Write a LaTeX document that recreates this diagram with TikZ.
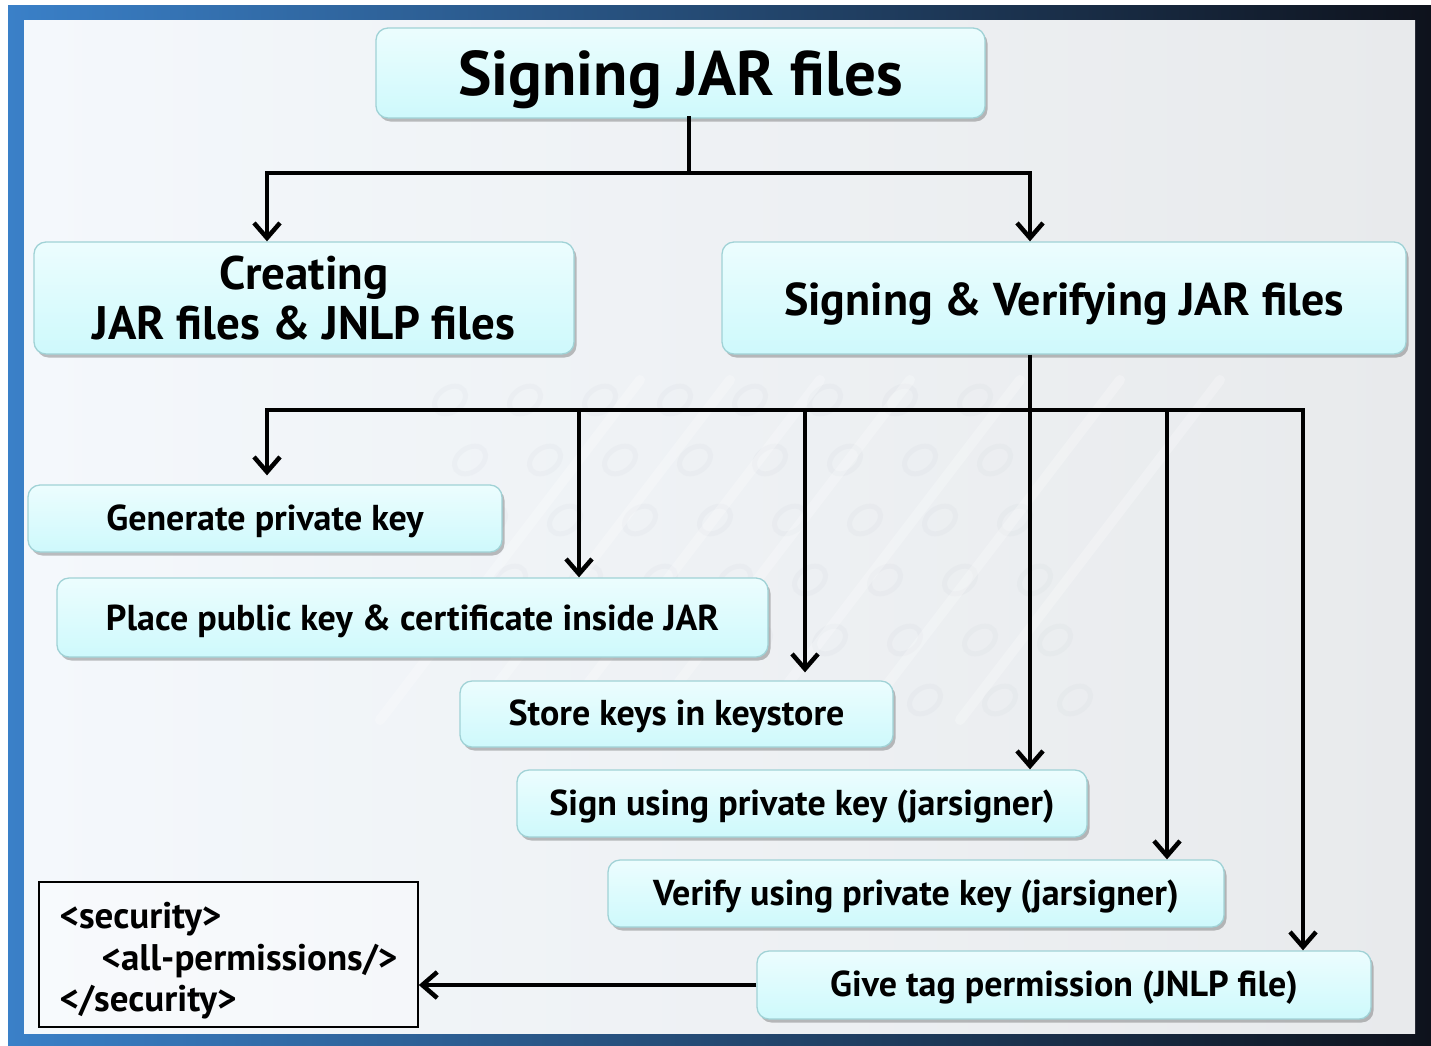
\documentclass[tikz,border=0pt]{standalone}
\usepackage{fontspec}
\setmainfont{PT Sans}
\usetikzlibrary{arrows.meta,shadows}
\definecolor{boxtop}{RGB}{236,253,254}
\definecolor{boxbot}{RGB}{206,249,252}
\definecolor{boxline}{RGB}{160,210,214}
\definecolor{frameL}{RGB}{58,128,200}
\definecolor{frameR}{RGB}{14,18,28}
\definecolor{panelL}{RGB}{244,248,252}
\definecolor{panelR}{RGB}{232,234,236}
\definecolor{etch}{RGB}{150,160,175}
\begin{document}
\begin{tikzpicture}[x=1pt,y=-1pt,
  stepbox/.style={draw=boxline, line width=1.3pt, rounded corners=12pt,
    top color=boxtop, bottom color=boxbot, inner sep=0pt, align=center,
    drop shadow={shadow xshift=2.5pt, shadow yshift=-3.5pt, opacity=0.35, fill=black!70},
    text height=25pt, text depth=2pt,
    font=\bfseries\fontsize{36}{42}\selectfont},
  bigbox/.style={stepbox, text height=36pt, text depth=2pt,
    font=\bfseries\fontsize{46}{50}\selectfont},
  conn/.style={line width=4.5pt, line cap=rect},
  arr/.style={line width=4.5pt, -{Straight Barb[length=15pt,width=26pt]}}]
% page and frame
\useasboundingbox (0,0) rectangle (1431,1045);
\fill[white] (0,0) rectangle (1431,1045);
\shade[left color=frameL, right color=frameR] (8,5) rectangle (1431,1045);
\shade[left color=panelL, right color=panelR] (24,20) rectangle (1415,1033);

% faint circuit-board texture in the panel
\begin{scope}[opacity=0.05]
  \foreach \r in {0,...,5}{
    \foreach \c in {0,...,7}{
      \draw[etch, line width=5pt, rotate around={35:(450+\c*75+\r*20,400+\r*60)}]
        (450+\c*75+\r*20,400+\r*60) ellipse (17pt and 12pt);
    }
  }
\end{scope}
\begin{scope}[opacity=0.25]
  \foreach \x in {380,470,560,650,760,860,960}{
    \draw[white, line width=10pt, line cap=round] (\x,720) -- (\x+260,380);
  }
\end{scope}

% boxes
\node[stepbox, minimum width=609pt, minimum height=90pt, text height=46pt,
  font=\bfseries\fontsize{63}{70}\selectfont] (title) at (680.5,73) {Signing JAR files};
\node[stepbox, minimum width=540pt, minimum height=112pt, text height=, text depth=,
  font=\bfseries\fontsize{47}{50}\selectfont] (create) at (304,298)
  {Creating\\JAR files \& JNLP files};
\node[bigbox, minimum width=684pt, minimum height=112pt] (signver) at (1064,298)
  {Signing \& Verifying JAR files};
\node[stepbox, minimum width=474pt, minimum height=67pt] (gen) at (265,518.5)
  {Generate private key};
\node[stepbox, minimum width=711pt, minimum height=79pt, text height=27pt] (place) at (412.5,617.5)
  {Place public key \& certificate inside JAR};
\node[stepbox, minimum width=433pt, minimum height=66pt] (store) at (676.5,714)
  {Store keys in keystore};
\node[stepbox, minimum width=570pt, minimum height=67pt] (sign) at (802,803.5)
  {Sign using private key (jarsigner)};
\node[stepbox, minimum width=616pt, minimum height=67pt] (verify) at (916,893.5)
  {Verify using private key (jarsigner)};
\node[stepbox, minimum width=614pt, minimum height=68pt] (give) at (1064,985)
  {Give tag permission (JNLP file)};
\node[draw=black, line width=1.6pt, fill=white, fill opacity=0.35, text opacity=1,
  minimum width=379pt, minimum height=145pt, inner sep=0pt,
  align=left, font=\bfseries\fontsize{37}{41.5}\selectfont] (sec) at (228.5,954.5)
  {\rule{0pt}{39pt}<security>\\\hspace*{42pt}<all-permissions/>\\</security>};

% junction points
\coordinate (t0) at (689,173);
\coordinate (t1) at (267,173);
\coordinate (t2) at (1030,173);
\coordinate (b1) at (267,410);
\coordinate (b2) at (579,410);
\coordinate (b3) at (805,410);
\coordinate (b4) at (1030,410);
\coordinate (b5) at (1167,410);
\coordinate (b6) at (1303,410);

% connectors from the title
\draw[conn] (t0 |- title.south) -- (t0);
\draw[conn] (t1) -- (t2);
\draw[arr] (t1) -- (t1 |- create.north);
\draw[arr] (t2) -- (t2 |- signver.north);

% connectors to the steps
\draw[conn] (b1) -- (b6);
\draw[arr, shorten >=9pt] (b1) -- (b1 |- gen.north);
\draw[arr] (b2) -- (b2 |- place.north);
\draw[arr, shorten >=8pt] (b3) -- (b3 |- store.north);
\draw[arr] (b4 |- signver.south) -- (b4 |- sign.north);
\draw[arr] (b5) -- (b5 |- verify.north);
\draw[arr] (b6) -- (b6 |- give.north);
\draw[arr] (give.west) -- (give.west -| sec.east);
\end{tikzpicture}
\end{document}
